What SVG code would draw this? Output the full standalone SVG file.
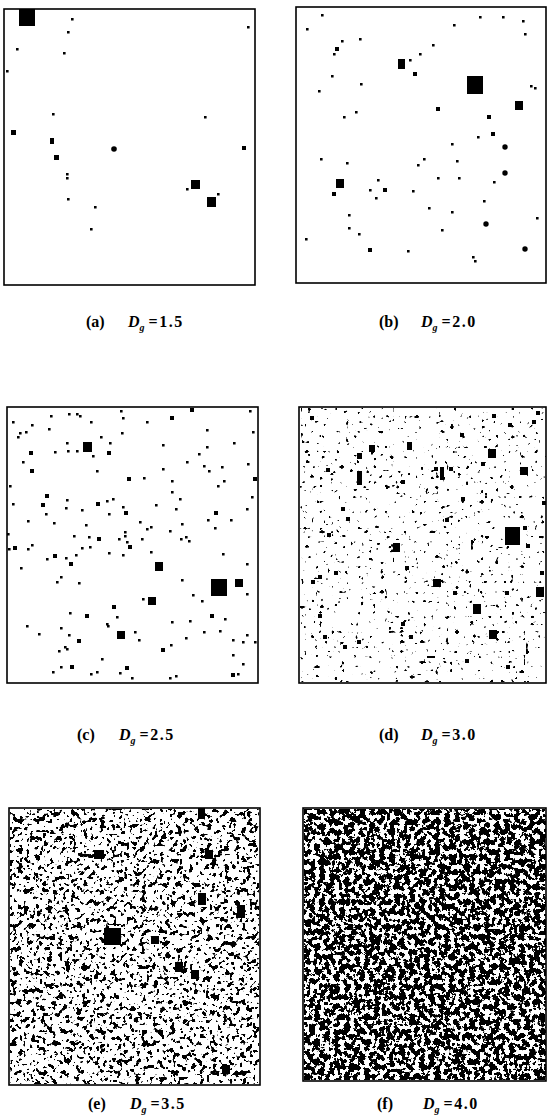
<svg xmlns="http://www.w3.org/2000/svg" width="547" height="1119" viewBox="0 0 547 1119">
<style>
.frame{fill:none;stroke:#000;stroke-width:1.6}
.ink{fill:#000}
.lab{font-family:"Liberation Serif","Times New Roman",serif;font-weight:bold;font-size:16px;fill:#000}
.it{font-style:italic}
.sub{font-style:italic;font-size:10px}
.num{letter-spacing:1.5px}
</style>
<defs>
<filter id="nd" filterUnits="userSpaceOnUse" x="300" y="408" width="246" height="274" color-interpolation-filters="sRGB">
<feTurbulence type="fractalNoise" baseFrequency="0.2" numOctaves="1" seed="11" result="t1"/>
<feColorMatrix in="t1" type="matrix" values="0 0 0 0 0 0 0 0 0 0 0 0 0 0 0 1 0 0 0 0" result="a1"/>
<feComponentTransfer in="a1" result="b1"><feFuncA type="linear" slope="30" intercept="-20.9"/></feComponentTransfer>
<feTurbulence type="fractalNoise" baseFrequency="0.26" numOctaves="1" seed="23" result="t2"/>
<feColorMatrix in="t2" type="matrix" values="0 0 0 0 0 0 0 0 0 0 0 0 0 0 0 1 0 0 0 0" result="a2"/>
<feComponentTransfer in="a2" result="b2"><feFuncA type="linear" slope="30" intercept="-21.2"/></feComponentTransfer>
<feComposite in="b1" in2="b2" operator="over"/>
</filter>
<filter id="ne" filterUnits="userSpaceOnUse" x="10" y="809" width="249" height="275" color-interpolation-filters="sRGB">
<feTurbulence type="fractalNoise" baseFrequency="0.17" numOctaves="2" seed="5" result="t1"/>
<feColorMatrix in="t1" type="matrix" values="0 0 0 0 0 0 0 0 0 0 0 0 0 0 0 1 0 0 0 0" result="a1"/>
<feComponentTransfer in="a1" result="b1"><feFuncA type="linear" slope="40" intercept="-24.6"/></feComponentTransfer>
<feTurbulence type="fractalNoise" baseFrequency="0.3" numOctaves="1" seed="9" result="t2"/>
<feColorMatrix in="t2" type="matrix" values="0 0 0 0 0 0 0 0 0 0 0 0 0 0 0 1 0 0 0 0" result="a2"/>
<feComponentTransfer in="a2" result="b2"><feFuncA type="linear" slope="40" intercept="-25.2"/></feComponentTransfer>
<feComposite in="b1" in2="b2" operator="over"/>
</filter>
<filter id="nf" filterUnits="userSpaceOnUse" x="304" y="809" width="242" height="271" color-interpolation-filters="sRGB">
<feTurbulence type="fractalNoise" baseFrequency="0.2" numOctaves="3" seed="3"/>
<feColorMatrix type="matrix" values="0 0 0 0 0 0 0 0 0 0 0 0 0 0 0 1 0 0 0 0"/>
<feComponentTransfer><feFuncA type="linear" slope="40" intercept="-18.9"/></feComponentTransfer>
</filter>
</defs>
<rect width="547" height="1119" fill="#fff"/>

<g id="panel-a">
<rect class="frame" x="4" y="9" width="251" height="276"/>
<path class="ink" d="M71 18h2.6v2.6h-2.6zM67 31h2.6v2.6h-2.6zM16 48h2.6v2.6h-2.6zM63 52h2.6v2.6h-2.6zM6 70h2.6v2.6h-2.6zM247 26h2.6v2.6h-2.6zM52 113h2.6v2.6h-2.6zM204 116h2.6v2.6h-2.6zM186 188h2.6v2.6h-2.6zM217 193h2.6v2.6h-2.6zM66 173h2.6v2.6h-2.6zM66 177h2.6v2.6h-2.6zM67 198h2.6v2.6h-2.6zM94 206h2.6v2.6h-2.6zM90 228h2.6v2.6h-2.6z"/>
<path class="ink" d="M19 9h16v17h-16zM11 130h5v5h-5zM50 138h4v6h-4zM54 155h5v5h-5zM242 146h4v4h-4zM191 180h9v9h-9zM207 197h9v10h-9z"/>
<circle class="ink" cx="114" cy="149" r="2.8"/>
</g>

<g id="panel-b">
<rect class="frame" x="296" y="7" width="250" height="276"/>
<path class="ink" d="M321 14h2.6v2.6h-2.6zM306 28h2.6v2.6h-2.6zM341 40h2.6v2.6h-2.6zM359 38h2.6v2.6h-2.6zM333 53h2.6v2.6h-2.6zM453 24h2.6v2.6h-2.6zM479 16h2.6v2.6h-2.6zM502 16h2.6v2.6h-2.6zM522 20h2.6v2.6h-2.6zM524 33h2.6v2.6h-2.6zM432 44h2.6v2.6h-2.6zM419 53h2.6v2.6h-2.6zM409 59h2.6v2.6h-2.6zM331 75h2.6v2.6h-2.6zM360 83h2.6v2.6h-2.6zM318 90h2.6v2.6h-2.6zM530 85h2.6v2.6h-2.6zM534 87h2.6v2.6h-2.6zM355 111h2.6v2.6h-2.6zM343 116h2.6v2.6h-2.6zM477 136h2.6v2.6h-2.6zM451 143h2.6v2.6h-2.6zM423 158h2.6v2.6h-2.6zM417 164h2.6v2.6h-2.6zM456 160h2.6v2.6h-2.6zM320 158h2.6v2.6h-2.6zM346 162h2.6v2.6h-2.6zM437 177h2.6v2.6h-2.6zM458 177h2.6v2.6h-2.6zM493 181h2.6v2.6h-2.6zM377 179h2.6v2.6h-2.6zM369 189h2.6v2.6h-2.6zM375 197h2.6v2.6h-2.6zM412 190h2.6v2.6h-2.6zM483 200h2.6v2.6h-2.6zM428 207h2.6v2.6h-2.6zM451 211h2.6v2.6h-2.6zM348 214h2.6v2.6h-2.6zM536 217h2.6v2.6h-2.6zM348 227h2.6v2.6h-2.6zM358 233h2.6v2.6h-2.6zM441 229h2.6v2.6h-2.6zM305 238h2.6v2.6h-2.6zM407 250h2.6v2.6h-2.6zM472 256h2.6v2.6h-2.6zM474 260h2.6v2.6h-2.6z"/>
<path class="ink" d="M335 47h4v4h-4zM413 72h4v4h-4zM436 107h4v4h-4zM487 115h4v4h-4zM491 132h4v4h-4zM383 188h4v4h-4zM332 192h4v4h-4zM368 248h4v4h-4z"/>
<path class="ink" d="M467 76h16v18h-16zM398 59h7v10h-7zM515 101h8v9h-8zM336 179h8v9h-8z"/>
<circle class="ink" cx="505" cy="147" r="2.7"/>
<circle class="ink" cx="505" cy="173" r="2.7"/>
<circle class="ink" cx="486" cy="224" r="2.7"/>
<circle class="ink" cx="525" cy="249" r="2.7"/>
</g>

<g id="panel-c">
<rect class="frame" x="7" y="407" width="251" height="276"/>
<path class="ink" d="M12 421h2.6v2.6h-2.6zM31 424h2.6v2.6h-2.6zM50 415h2.6v2.6h-2.6zM68 413h2.6v2.6h-2.6zM76 413h2.6v2.6h-2.6zM79 415h2.6v2.6h-2.6zM90 421h2.6v2.6h-2.6zM120 410h2.6v2.6h-2.6zM122 417h2.6v2.6h-2.6zM146 421h2.6v2.6h-2.6zM249 410h2.6v2.6h-2.6zM252 431h2.6v2.6h-2.6zM206 429h2.6v2.6h-2.6zM19 432h2.6v2.6h-2.6zM25 431h2.6v2.6h-2.6zM17 436h2.6v2.6h-2.6zM48 428h2.6v2.6h-2.6zM66 442h2.6v2.6h-2.6zM67 450h2.6v2.6h-2.6zM76 450h2.6v2.6h-2.6zM54 451h2.6v2.6h-2.6zM109 442h2.6v2.6h-2.6zM100 436h2.6v2.6h-2.6zM121 432h2.6v2.6h-2.6zM162 444h2.6v2.6h-2.6zM206 446h2.6v2.6h-2.6zM198 453h2.6v2.6h-2.6zM233 442h2.6v2.6h-2.6zM22 461h2.6v2.6h-2.6zM92 455h2.6v2.6h-2.6zM96 470h2.6v2.6h-2.6zM143 477h2.6v2.6h-2.6zM162 468h2.6v2.6h-2.6zM171 480h2.6v2.6h-2.6zM186 461h2.6v2.6h-2.6zM203 465h2.6v2.6h-2.6zM208 470h2.6v2.6h-2.6zM221 466h2.6v2.6h-2.6zM247 463h2.6v2.6h-2.6zM223 480h2.6v2.6h-2.6zM217 485h2.6v2.6h-2.6zM9 485h2.6v2.6h-2.6zM12 503h2.6v2.6h-2.6zM66 499h2.6v2.6h-2.6zM65 507h2.6v2.6h-2.6zM81 509h2.6v2.6h-2.6zM106 500h2.6v2.6h-2.6zM112 498h2.6v2.6h-2.6zM108 513h2.6v2.6h-2.6zM122 506h2.6v2.6h-2.6zM155 504h2.6v2.6h-2.6zM171 491h2.6v2.6h-2.6zM179 498h2.6v2.6h-2.6zM175 508h2.6v2.6h-2.6zM230 519h2.6v2.6h-2.6zM246 508h2.6v2.6h-2.6zM251 496h2.6v2.6h-2.6zM45 513h2.6v2.6h-2.6zM27 520h2.6v2.6h-2.6zM53 522h2.6v2.6h-2.6zM85 524h2.6v2.6h-2.6zM139 521h2.6v2.6h-2.6zM146 528h2.6v2.6h-2.6zM150 526h2.6v2.6h-2.6zM181 523h2.6v2.6h-2.6zM207 519h2.6v2.6h-2.6zM214 527h2.6v2.6h-2.6zM169 530h2.6v2.6h-2.6zM7 533h2.6v2.6h-2.6zM73 535h2.6v2.6h-2.6zM88 536h2.6v2.6h-2.6zM118 538h2.6v2.6h-2.6zM124 531h2.6v2.6h-2.6zM124 535h2.6v2.6h-2.6zM126 541h2.6v2.6h-2.6zM141 538h2.6v2.6h-2.6zM180 538h2.6v2.6h-2.6zM185 536h2.6v2.6h-2.6zM188 540h2.6v2.6h-2.6zM8 548h2.6v2.6h-2.6zM27 548h2.6v2.6h-2.6zM31 544h2.6v2.6h-2.6zM46 558h2.6v2.6h-2.6zM65 557h2.6v2.6h-2.6zM75 554h2.6v2.6h-2.6zM81 547h2.6v2.6h-2.6zM89 546h2.6v2.6h-2.6zM108 552h2.6v2.6h-2.6zM122 554h2.6v2.6h-2.6zM150 551h2.6v2.6h-2.6zM20 567h2.6v2.6h-2.6zM222 553h2.6v2.6h-2.6zM246 563h2.6v2.6h-2.6zM60 576h2.6v2.6h-2.6zM56 581h2.6v2.6h-2.6zM78 582h2.6v2.6h-2.6zM181 579h2.6v2.6h-2.6zM192 594h2.6v2.6h-2.6zM201 600h2.6v2.6h-2.6zM246 593h2.6v2.6h-2.6zM142 598h2.6v2.6h-2.6zM116 616h2.6v2.6h-2.6zM69 612h2.6v2.6h-2.6zM224 618h2.6v2.6h-2.6zM106 623h2.6v2.6h-2.6zM107 625h2.6v2.6h-2.6zM26 625h2.6v2.6h-2.6zM60 627h2.6v2.6h-2.6zM38 633h2.6v2.6h-2.6zM68 634h2.6v2.6h-2.6zM134 631h2.6v2.6h-2.6zM138 639h2.6v2.6h-2.6zM171 621h2.6v2.6h-2.6zM189 620h2.6v2.6h-2.6zM185 637h2.6v2.6h-2.6zM203 631h2.6v2.6h-2.6zM219 630h2.6v2.6h-2.6zM232 639h2.6v2.6h-2.6zM242 641h2.6v2.6h-2.6zM246 634h2.6v2.6h-2.6zM254 641h2.6v2.6h-2.6zM58 650h2.6v2.6h-2.6zM64 646h2.6v2.6h-2.6zM66 648h2.6v2.6h-2.6zM101 658h2.6v2.6h-2.6zM170 644h2.6v2.6h-2.6zM232 654h2.6v2.6h-2.6zM242 663h2.6v2.6h-2.6zM60 666h2.6v2.6h-2.6zM52 671h2.6v2.6h-2.6zM90 673h2.6v2.6h-2.6zM96 671h2.6v2.6h-2.6zM119 672h2.6v2.6h-2.6zM169 677h2.6v2.6h-2.6zM175 675h2.6v2.6h-2.6zM131 677h2.6v2.6h-2.6zM237 673h2.6v2.6h-2.6z"/>
<path class="ink" d="M170 416h4v4h-4zM190 408h4v4h-4zM29 451h4v4h-4zM107 451h4v4h-4zM30 469h4v4h-4zM127 477h4v4h-4zM253 477h4v4h-4zM45 494h4v4h-4zM41 503h4v4h-4zM96 502h4v4h-4zM124 511h4v4h-4zM214 511h4v4h-4zM97 537h4v4h-4zM128 545h4v4h-4zM13 546h4v4h-4zM53 554h4v4h-4zM69 562h4v4h-4zM112 605h4v4h-4zM85 614h4v4h-4zM210 614h4v4h-4zM77 639h4v4h-4zM161 648h4v4h-4zM70 665h4v4h-4zM125 666h4v4h-4zM231 673h4v4h-4z"/>
<path class="ink" d="M83 442h9v10h-9zM211 579h16v17h-16zM235 579h8v8h-8zM155 562h8v9h-8zM148 597h8v8h-8zM117 631h8v8h-8z"/>
</g>

<g id="panel-d">
<rect x="300" y="408" width="246" height="274" fill="#000" filter="url(#nd)"/>
<path class="ink" d="M505 527h15v18h-15zM488 449h8v9h-8zM520 467h8v8h-8zM393 543h7v9h-7zM433 579h8v8h-8zM473 604h8v10h-8zM489 630h8v9h-8zM536 587h8v10h-8zM369 445h6v7h-6zM357 453h5v6h-5zM407 442h5v8h-5zM440 467h4v13h-4zM357 471h5v14h-5zM427 656h8v2h-8z"/>
<path class="ink" d="M310 416h4v4h-4zM326 468h4v4h-4zM341 507h4v4h-4zM327 533h4v4h-4zM318 614h4v4h-4zM311 580h4v4h-4zM318 575h4v4h-4zM346 517h4v4h-4zM445 518h4v4h-4zM460 433h4v4h-4zM492 414h4v4h-4zM508 423h4v4h-4zM536 411h4v4h-4zM532 420h4v4h-4zM401 480h4v4h-4zM449 467h4v4h-4zM434 467h4v4h-4zM461 497h4v4h-4zM481 462h4v4h-4zM358 454h4v4h-4zM401 622h4v4h-4zM357 640h4v4h-4zM343 645h4v4h-4zM323 635h4v4h-4zM409 635h4v4h-4zM453 591h4v4h-4zM505 591h4v4h-4zM540 571h4v4h-4zM542 501h4v4h-4zM523 526h4v4h-4zM526 544h4v4h-4zM405 566h4v4h-4zM334 571h4v4h-4zM465 659h4v4h-4zM506 665h4v4h-4z"/>
<rect class="frame" x="299" y="407" width="247" height="276"/>
</g>

<g id="panel-e">
<rect x="10" y="809" width="249" height="275" fill="#000" filter="url(#ne)"/>
<path class="ink" d="M104 928h17v17h-17zM94 850h10v9h-10zM205 850h8v9h-8zM198 893h8v12h-8zM151 936h8v8h-8zM191 970h8v9h-8zM175 962h8v10h-8zM222 1065h8v9h-8zM198 808h7v11h-7zM237 905h8v13h-8z"/>
<rect class="frame" x="9" y="808" width="251" height="277"/>
</g>

<g id="panel-f">
<rect x="304" y="809" width="242" height="271" fill="#000" filter="url(#nf)"/>
<rect class="frame" x="303" y="808" width="243" height="273"/>
</g>

<g id="labels">
<text class="lab" x="86" y="327">(a)<tspan class="it" x="128">D</tspan><tspan class="sub" dy="4">g</tspan><tspan class="num" dy="-4" dx="4">=1.5</tspan></text>
<text class="lab" x="379" y="327">(b)<tspan class="it" x="421">D</tspan><tspan class="sub" dy="4">g</tspan><tspan class="num" dy="-4" dx="4">=2.0</tspan></text>
<text class="lab" x="77" y="740">(c)<tspan class="it" x="119">D</tspan><tspan class="sub" dy="4">g</tspan><tspan class="num" dy="-4" dx="4">=2.5</tspan></text>
<text class="lab" x="379" y="740">(d)<tspan class="it" x="421">D</tspan><tspan class="sub" dy="4">g</tspan><tspan class="num" dy="-4" dx="4">=3.0</tspan></text>
<text class="lab" x="88" y="1109">(e)<tspan class="it" x="130">D</tspan><tspan class="sub" dy="4">g</tspan><tspan class="num" dy="-4" dx="4">=3.5</tspan></text>
<text class="lab" x="377" y="1109">(f)<tspan class="it" x="423">D</tspan><tspan class="sub" dy="4">g</tspan><tspan class="num" dy="-4" dx="4">=4.0</tspan></text>
</g>
</svg>
